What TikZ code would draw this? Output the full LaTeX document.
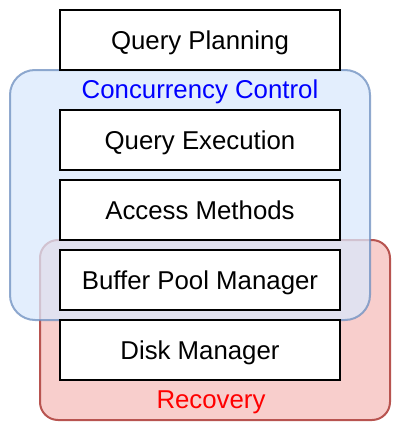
\documentclass[tikz,border=0pt]{standalone}
\usepackage{fontspec}
\setmainfont{Liberation Sans}
\definecolor{ccfill}{HTML}{DAE8FC}
\definecolor{ccline}{HTML}{6C8EBF}
\definecolor{rcfill}{HTML}{F8CECC}
\definecolor{rcline}{HTML}{B85450}
\begin{document}
\begin{tikzpicture}[x=1pt,y=-1pt,
  capcentred/.style={font=\fontsize{25.8}{30}\selectfont,
    text height=18.5pt,text depth=0pt},
  layer/.style={capcentred,draw=black,line width=2pt,fill=white,
    minimum width=280pt,minimum height=60pt,inner sep=0pt},
  region/.style={line width=2pt,inner sep=0pt},
  regionlabel/.style={capcentred,inner sep=0pt}]
\useasboundingbox (0,0) rectangle (401,431);
% recovery region
\node[region,draw=rcline,fill=rcfill,rounded corners=18pt,
  minimum width=350pt,minimum height=180pt] (rec) at (215,330) {};
% concurrency control region, translucent over recovery
\node[region,draw=ccline,fill=ccfill,rounded corners=25pt,opacity=0.75,
  minimum width=360pt,minimum height=250pt] (cc) at (190,195) {};
% layers
\node[layer] (qp) at (200,40) {Query Planning};
\node[layer] (qe) at (200,140) {Query Execution};
\node[layer] (am) at (200,210) {Access Methods};
\node[layer] (bpm) at (200,280) {Buffer Pool Manager};
\node[layer] (dm) at (200,350) {Disk Manager};
% region labels
\node[regionlabel,text=blue] (cclabel) at (200,89.5) {Concurrency Control};
\node[regionlabel,text=red] (reclabel) at (211,399) {Recovery};
\end{tikzpicture}
\end{document}
